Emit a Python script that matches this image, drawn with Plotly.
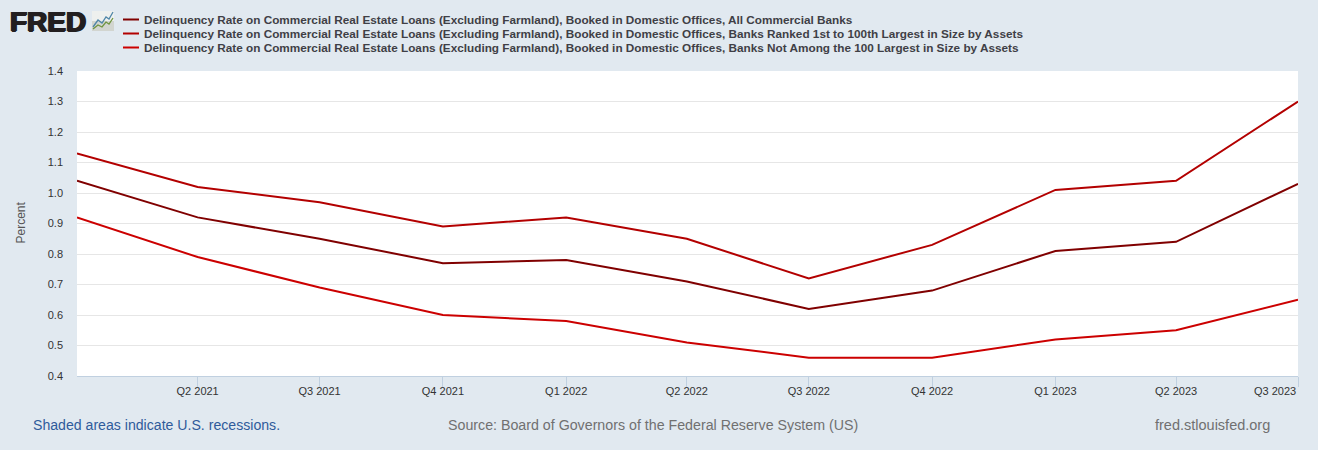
import plotly.graph_objects as go

quarters = ["2021-01-01","2021-04-01","2021-07-01","2021-10-01","2022-01-01","2022-04-01",
            "2022-07-01","2022-10-01","2023-01-01","2023-04-01","2023-07-01"]
all_banks = [1.04,0.92,0.85,0.77,0.78,0.71,0.62,0.68,0.81,0.84,1.03]
top_100 = [1.13,1.02,0.97,0.89,0.92,0.85,0.72,0.83,1.01,1.04,1.30]
not_top_100 = [0.92,0.79,0.69,0.60,0.58,0.51,0.46,0.46,0.52,0.55,0.65]
names = ["Delinquency Rate on Commercial Real Estate Loans (Excluding Farmland), Booked in Domestic Offices, All Commercial Banks",
         "Delinquency Rate on Commercial Real Estate Loans (Excluding Farmland), Booked in Domestic Offices, Banks Ranked 1st to 100th Largest in Size by Assets",
         "Delinquency Rate on Commercial Real Estate Loans (Excluding Farmland), Booked in Domestic Offices, Banks Not Among the 100 Largest in Size by Assets"]
colors = ["#800000","#b30000","#cc0000"]
tick_vals = quarters[1:]
tick_text = ["Q2 2021","Q3 2021","Q4 2021","Q1 2022","Q2 2022","Q3 2022","Q4 2022","Q1 2023","Q2 2023","Q3 2023"]
y_ticks = [0.4,0.5,0.6,0.7,0.8,0.9,1.0,1.1,1.2,1.3,1.4]

W, H = 1318, 450
L, R, T, B = 77, 1298, 71, 376
def px(x): return (x - L) / (R - L)
def py(y): return (B - y) / (B - T)

fig = go.Figure()
for vals, name, c in zip([all_banks, top_100, not_top_100], names, colors):
    fig.add_trace(go.Scatter(x=quarters, y=vals, mode="lines", name=name,
                             line=dict(color=c, width=2), showlegend=False))

font = "Liberation Sans, Arial, sans-serif"
ann = []
shapes = []
for i, (name, c) in enumerate(zip(names, colors)):
    y = 19.5 + i * 14
    shapes.append(dict(type="line", xref="paper", yref="paper", x0=px(123), x1=px(139),
                       y0=py(y), y1=py(y), line=dict(color=c, width=2)))
    ann.append(dict(text="<b>%s</b>" % name, xref="paper", yref="paper", x=px(141.5), y=py(y + 0.4),
                    xanchor="left", yanchor="middle", showarrow=False,
                    font=dict(family=font, size=11.78, color="#3f3f46")))
ann.append(dict(text=tick_text[-1], xref="x", yref="paper", x=quarters[-1], y=py(391.2),
                xanchor="right", yanchor="middle", showarrow=False,
                font=dict(family=font, size=11, color="#333333")))
for text, x, color, size in [("Shaded areas indicate U.S. recessions.", 30.5, "#2f5b9b", 14.12),
                             ("Source: Board of Governors of the Federal Reserve System (US)", 445.5, "#707070", 14.22),
                             ("fred.stlouisfed.org", 1152.5, "#707070", 14.5)]:
    ann.append(dict(text=text, xref="paper", yref="paper", x=px(x), y=py(425), xanchor="left",
                    yanchor="middle", showarrow=False, font=dict(family=font, size=size, color=color)))
ann.append(dict(text="Percent", xref="paper", yref="paper", x=px(20.5), y=py(223), textangle=-90,
                xanchor="center", yanchor="middle", showarrow=False,
                font=dict(family=font, size=12, color="#555555")))
ann.append(dict(text="<b>FRED</b>", xref="paper", yref="paper", x=px(8), y=py(21), xanchor="left",
                yanchor="middle", showarrow=False,
                font=dict(family=font, size=28, color="#231f20",
                          shadow="1px 0 0 #231f20, -1px 0 0 #231f20, 0 0.5px 0 #231f20")))
# logo icon
shapes.append(dict(type="rect", xref="paper", yref="paper", x0=px(92), x1=px(114), y0=py(21), y1=py(11),
                   fillcolor="#eef0ee", line=dict(width=0), layer="below"))
shapes.append(dict(type="rect", xref="paper", yref="paper", x0=px(92), x1=px(114), y0=py(31), y1=py(21),
                   fillcolor="#d2d5d0", line=dict(width=0), layer="below"))
shapes.append(dict(type="path", xref="paper", yref="paper",
                   path="M %f %f L %f %f L %f %f L %f %f L %f %f L %f %f" % (
                       px(93), py(27), px(98), py(20), px(102), py(23), px(106), py(17), px(109), py(19), px(113), py(12)),
                   line=dict(color="#4f86a8", width=1.3)))
shapes.append(dict(type="path", xref="paper", yref="paper",
                   path="M %f %f L %f %f L %f %f L %f %f L %f %f L %f %f" % (
                       px(93), py(29), px(98), py(25), px(102), py(27), px(106), py(22), px(109), py(24), px(113), py(18)),
                   line=dict(color="#6f9440", width=1.3)))

fig.update_layout(
    width=W, height=H, margin=dict(l=L, r=W - R, t=T, b=H - B, pad=0),
    paper_bgcolor="#e1e9f0", plot_bgcolor="#ffffff",
    font=dict(family=font, size=11, color="#333333"),
    annotations=ann, shapes=shapes,
    xaxis=dict(type="date", range=[quarters[0], quarters[-1]], tickmode="array",
               tickvals=tick_vals, ticktext=tick_text[:-1] + [""], ticks="outside", ticklen=10,
               tickcolor="#c0d0e0", tickwidth=1, showgrid=False, showline=True, linecolor="#c0d0e0",
               linewidth=1, zeroline=False, tickfont=dict(size=11, color="#333333"), ticklabelstandoff=-5),
    yaxis=dict(range=[0.4, 1.4], tickmode="array", tickvals=y_ticks,
               ticktext=["%.1f" % v for v in y_ticks], showgrid=True, gridcolor="#e6e6e6", gridwidth=1,
               zeroline=False, showline=False, ticks="", ticklabelstandoff=13,
               tickfont=dict(size=11, color="#333333")),
)
fig.write_html("out.html", config=dict(displayModeBar=False), post_script="document.body.style.margin='0';")
